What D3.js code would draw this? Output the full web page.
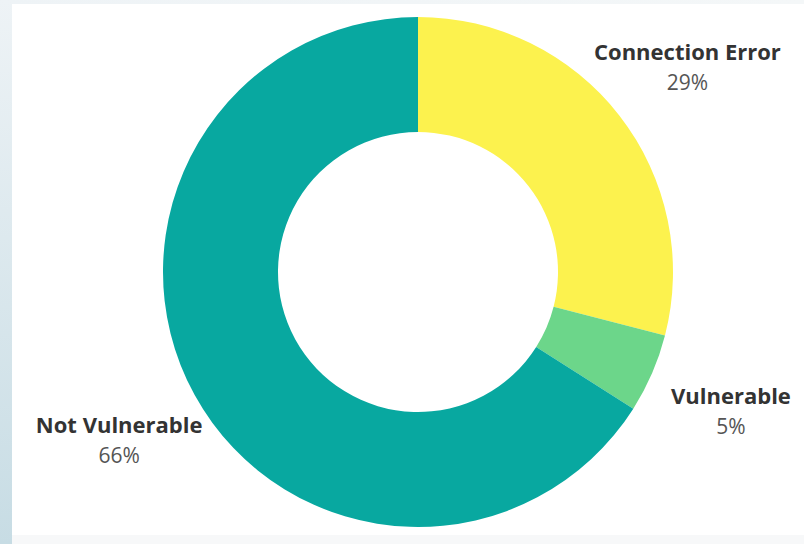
<!DOCTYPE html>
<html>
<head>
<meta charset="utf-8">
<script src="https://cdn.jsdelivr.net/npm/d3@7"></script>
<style>
  html, body { margin: 0; padding: 0; background: #f7f8f9; }
  svg { display: block; }
</style>
</head>
<body>
<svg id="chart" width="804" height="544"></svg>
<script>
// ---- data ----
const categories = ["Connection Error", "Vulnerable", "Not Vulnerable"];
const values = [29, 5, 66];
const percentLabels = ["29%", "5%", "66%"];
const colors = ["#fcf24e", "#6cd68a", "#08a8a0"];

const W = 804, H = 544;
const svg = d3.select("#chart");

// background frame
const defs = svg.append("defs");
const lg = defs.append("linearGradient").attr("id", "leftGrad")
  .attr("x1", 0).attr("y1", 0).attr("x2", 0).attr("y2", 1);
lg.append("stop").attr("offset", "0%").attr("stop-color", "#eef3f6");
lg.append("stop").attr("offset", "100%").attr("stop-color", "#c7dce4");
const tg = defs.append("linearGradient").attr("id", "topGrad")
  .attr("x1", 0).attr("y1", 0).attr("x2", 1).attr("y2", 0);
tg.append("stop").attr("offset", "0%").attr("stop-color", "#eef3f6");
tg.append("stop").attr("offset", "100%").attr("stop-color", "#f4f7f8");

svg.append("rect").attr("x", 0).attr("y", 0).attr("width", W).attr("height", H).attr("fill", "#f7f8f9");
svg.append("rect").attr("x", 0).attr("y", 0).attr("width", W).attr("height", 4).attr("fill", "url(#topGrad)");
svg.append("rect").attr("x", 0).attr("y", 0).attr("width", 12).attr("height", H).attr("fill", "url(#leftGrad)");
svg.append("rect").attr("x", 12).attr("y", 4).attr("width", W - 12).attr("height", 531).attr("fill", "#ffffff");

// donut
const cx = 418, cy = 272, outerR = 255, innerR = 140, labelR = 341;
const g = svg.append("g").attr("transform", `translate(${cx},${cy})`);

const data = categories.map((c, i) => ({ name: c, value: values[i], pct: percentLabels[i], color: colors[i] }));
const pie = d3.pie().sort(null).value(d => d.value);
const arcs = pie(data);
const arc = d3.arc().innerRadius(innerR).outerRadius(outerR);
const labelArc = d3.arc().innerRadius(labelR).outerRadius(labelR);

g.selectAll("path.slice").data(arcs).join("path")
  .attr("class", "slice")
  .attr("d", arc)
  .attr("fill", d => d.data.color);

const lbl = g.selectAll("g.lbl").data(arcs).join("g")
  .attr("class", "lbl")
  .attr("transform", d => { const [x, y] = labelArc.centroid(d); return `translate(${x},${y})`; });

lbl.append("text")
  .attr("text-anchor", "middle")
  .attr("y", -3)
  .attr("font-family", "'Open Sans', sans-serif")
  .attr("font-weight", 700)
  .attr("font-size", 22)
  .attr("fill", "#333333")
  .text(d => d.data.name);

lbl.append("text")
  .attr("text-anchor", "middle")
  .attr("y", 27)
  .attr("font-family", "'Open Sans', sans-serif")
  .attr("font-weight", 400)
  .attr("font-size", 21)
  .attr("fill", "#555555")
  .text(d => d.data.pct);
</script>
</body>
</html>
